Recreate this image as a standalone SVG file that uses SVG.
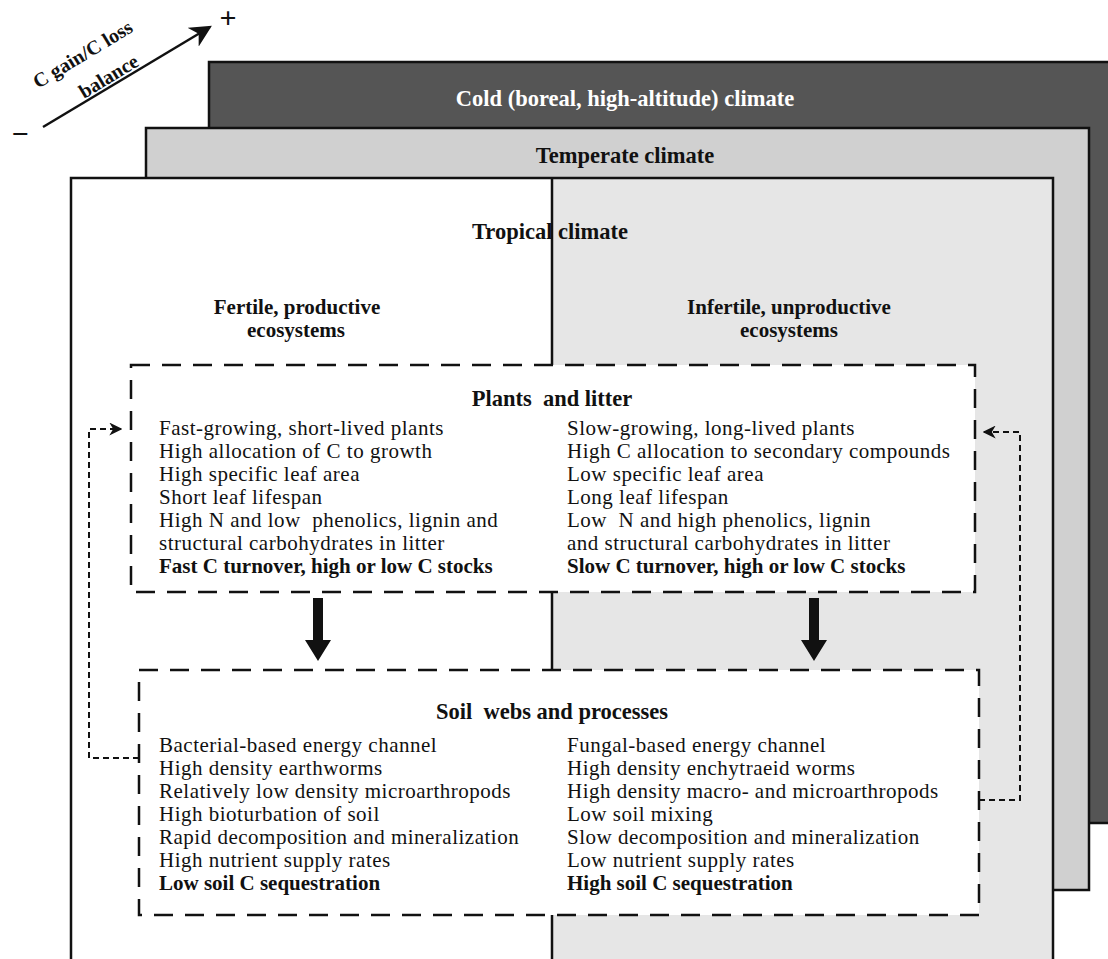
<svg xmlns="http://www.w3.org/2000/svg" width="1108" height="959" viewBox="0 0 1108 959">
<defs>
<style>
text{font-family:"Liberation Serif","Times New Roman",serif;fill:#111;}
.b{font-weight:bold;}
.t{font-size:21px;letter-spacing:0.5px;}
.tb{font-size:21px;font-weight:bold;}
.h{font-size:22.5px;font-weight:bold;text-anchor:middle;}
.h2{font-size:21px;font-weight:bold;text-anchor:middle;}
.panel{stroke:#111;stroke-width:2.5;}
.dbox{fill:#fff;stroke:#111;stroke-width:2.5;stroke-dasharray:19 12;}
.fb{fill:none;stroke:#111;stroke-width:2;stroke-dasharray:6 4;}
</style>
<marker id="ah" viewBox="0 0 10 10" refX="9" refY="5" markerWidth="13" markerHeight="13" markerUnits="userSpaceOnUse" orient="auto">
<path d="M0,0 L10,5 L0,10 L3,5 Z" fill="#111"/>
</marker>
<marker id="ah2" viewBox="0 0 10 10" refX="9" refY="5" markerWidth="22" markerHeight="22" markerUnits="userSpaceOnUse" orient="auto">
<path d="M0,0 L10,5 L0,10 L3,5 Z" fill="#111"/>
</marker>
</defs>

<g id="axis">
<line x1="43" y1="127" x2="210" y2="27" stroke="#111" stroke-width="2.5" marker-end="url(#ah2)"/>
<text x="228" y="28" font-size="30" class="b" text-anchor="middle">+</text>
<text x="20" y="144" font-size="30" class="b" text-anchor="middle">−</text>
<text transform="translate(86,60) rotate(-31)" class="b" font-size="20" text-anchor="middle">C gain/C loss</text>
<text transform="translate(112,82) rotate(-31)" class="b" font-size="20" text-anchor="middle">balance</text>
</g>

<g id="cold">
<rect class="panel" x="209" y="62" width="920" height="761" fill="#555"/>
<text class="h" x="625" y="106" style="fill:#fff">Cold (boreal, high-altitude) climate</text>
</g>

<g id="temperate">
<rect class="panel" x="146" y="128" width="943" height="762" fill="#d0d0d0"/>
<text class="h" x="625" y="163">Temperate climate</text>
</g>

<g id="tropical">
<rect x="71" y="178" width="982" height="790" fill="#fff" stroke="none"/>
<rect x="552" y="178" width="501" height="790" fill="#e6e6e6" stroke="none"/>
<line x1="552" y1="178" x2="552" y2="959" stroke="#111" stroke-width="2.5"/>
<rect class="panel" x="71" y="178" width="982" height="790" fill="none"/>
<text class="h" x="550" y="239">Tropical climate</text>
<text class="h2" x="297" y="314">Fertile, productive</text>
<text class="h2" x="296" y="337">ecosystems</text>
<text class="h2" x="789" y="314">Infertile, unproductive</text>
<text class="h2" x="789" y="337">ecosystems</text>
</g>

<g id="plants">
<rect class="dbox" x="131" y="365" width="844" height="227"/>
<text class="h" x="552" y="406" xml:space="preserve">Plants  and litter</text>
<text class="t" x="159" y="435">Fast-growing, short-lived plants</text>
<text class="t" x="159" y="458">High allocation of C to growth</text>
<text class="t" x="159" y="481">High specific leaf area</text>
<text class="t" x="159" y="504">Short leaf lifespan</text>
<text class="t" x="159" y="527" xml:space="preserve">High N and low  phenolics, lignin and</text>
<text class="t" x="159" y="550">structural carbohydrates in litter</text>
<text class="tb" x="159" y="573">Fast C turnover, high or low C stocks</text>
<text class="t" x="567" y="435">Slow-growing, long-lived plants</text>
<text class="t" x="567" y="458">High C allocation to secondary compounds</text>
<text class="t" x="567" y="481">Low specific leaf area</text>
<text class="t" x="567" y="504">Long leaf lifespan</text>
<text class="t" x="567" y="527" xml:space="preserve">Low  N and high phenolics, lignin</text>
<text class="t" x="567" y="550">and structural carbohydrates in litter</text>
<text class="tb" x="567" y="573">Slow C turnover, high or low C stocks</text>
</g>

<g id="soil">
<rect class="dbox" x="139" y="670" width="840" height="245"/>
<text class="h" x="552" y="719" xml:space="preserve">Soil  webs and processes</text>
<text class="t" x="159" y="752">Bacterial-based energy channel</text>
<text class="t" x="159" y="775">High density earthworms</text>
<text class="t" x="159" y="798">Relatively low density microarthropods</text>
<text class="t" x="159" y="821">High bioturbation of soil</text>
<text class="t" x="159" y="844">Rapid decomposition and mineralization</text>
<text class="t" x="159" y="867">High nutrient supply rates</text>
<text class="tb" x="159" y="890">Low soil C sequestration</text>
<text class="t" x="567" y="752">Fungal-based energy channel</text>
<text class="t" x="567" y="775">High density enchytraeid worms</text>
<text class="t" x="567" y="798">High density macro- and microarthropods</text>
<text class="t" x="567" y="821">Low soil mixing</text>
<text class="t" x="567" y="844">Slow decomposition and mineralization</text>
<text class="t" x="567" y="867">Low nutrient supply rates</text>
<text class="tb" x="567" y="890">High soil C sequestration</text>
</g>

<g id="connectors">
<path d="M313,598 V640 H305 L318,661 L331,640 H323 V598 Z" fill="#111"/>
<path d="M809,598 V640 H801 L814,661 L827,640 H819 V598 Z" fill="#111"/>
<polyline class="fb" points="139,758 89,758 89,429 121,429" marker-end="url(#ah)"/>
<polyline class="fb" points="979,800 1020,800 1020,432 984,432" marker-end="url(#ah)"/>
</g>
</svg>
